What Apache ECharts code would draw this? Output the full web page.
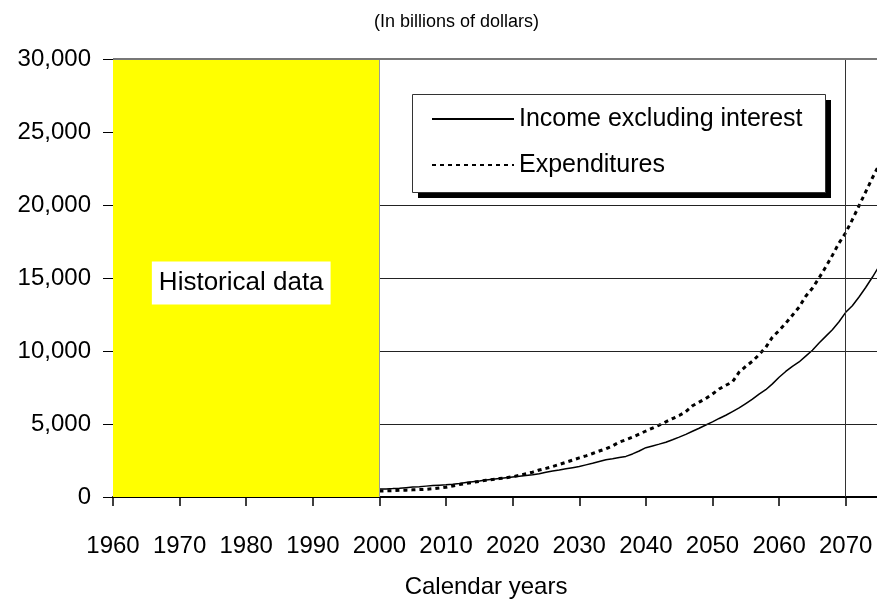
<!DOCTYPE html>
<html>
<head>
<meta charset="utf-8">
<script src="https://cdn.jsdelivr.net/npm/echarts@6/dist/echarts.min.js"></script>
<style>
html,body{margin:0;padding:0;background:#fff;}
#chart{width:877px;height:601px;}
</style>
</head>
<body>
<div id="chart"></div>
<script>
const years = [2000,2001,2002,2003,2004,2005,2006,2007,2008,2009,
  2010,2011,2012,2013,2014,2015,2016,2017,2018,2019,
  2020,2021,2022,2023,2024,2025,2026,2027,2028,2029,
  2030,2031,2032,2033,2034,2035,2036,2037,2038,2039,
  2040,2041,2042,2043,2044,2045,2046,2047,2048,2049,
  2050,2051,2052,2053,2054,2055,2056,2057,2058,2059,
  2060,2061,2062,2063,2064,2065,2066,2067,2068,2069,
  2070,2071,2072,2073,2074,2075];
const incomeExclInterest = [540,555,575,600,640,680,710,745,780,810,
  840,880,930,990,1050,1100,1160,1220,1270,1320,
  1370,1420,1470,1520,1600,1690,1780,1850,1930,2010,
  2090,2200,2310,2430,2550,2620,2700,2780,2950,3150,
  3380,3500,3620,3750,3920,4100,4290,4500,4710,4930,
  5150,5380,5600,5850,6100,6400,6700,7050,7350,7750,
  8200,8600,8950,9250,9650,10050,10550,11000,11450,12000,
  12650,13100,13700,14350,15050,15800];
const expenditures = [410,420,435,455,470,490,510,530,570,620,
  670,760,850,930,1000,1070,1140,1200,1260,1320,
  1390,1480,1590,1700,1850,1960,2090,2230,2380,2530,
  2680,2820,2980,3150,3300,3500,3760,3920,4100,4300,
  4520,4720,4920,5150,5370,5580,5850,6250,6500,6750,
  7050,7400,7650,7880,8550,8950,9300,9750,10250,10950,
  11400,11900,12450,13000,13750,14300,15000,15750,16550,17400,
  18100,19000,19950,20900,21850,22750];
const seriesNames = ['Income excluding interest', 'Expenditures'];
const historicalSpan = [1960, 2000];
const gridValues = [5000, 10000, 15000, 20000];
const projectionSpan = [2000, 2075];
const markerYears = [2070];
const yMax = 30000;

const FONT = '"Liberation Sans", Arial, sans-serif';
const pair = (xs, ys) => xs.map((x, i) => [x, ys[i]]);

const gridLines = gridValues.map(v => [
  {coord: [projectionSpan[0], v]}, {coord: [projectionSpan[1], v]}
]);
const topLine = [[{coord: [historicalSpan[0], yMax]}, {coord: [projectionSpan[1], yMax]}]];

const chart = echarts.init(document.getElementById('chart'), null, {renderer: 'canvas'});
chart.setOption({
  animation: false,
  backgroundColor: '#fff',
  title: {
    text: '(In billions of dollars)',
    left: 369, top: 8,
    textStyle: {fontFamily: FONT, fontSize: 18, fontWeight: 'normal', color: '#000'}
  },
  grid: {left: 113, top: 59, width: 766, height: 438, containLabel: false, outerBoundsMode: 'none'},
  xAxis: {
    type: 'value', min: 1960, max: 2075, interval: 10,
    name: 'Calendar years', nameLocation: 'middle', nameGap: 78,
    nameTextStyle: {fontFamily: FONT, fontSize: 24, color: '#000', padding: [0, 20, 0, 0]},
    axisLine: {show: true, lineStyle: {color: '#000', width: 2}},
    axisTick: {show: true, length: 9, lineStyle: {color: '#000', width: 1.5}},
    axisLabel: {
      margin: 37, fontFamily: FONT, fontSize: 24, color: '#000',
      showMaxLabel: false,
      formatter: v => (v % 10 === 0 ? String(v) : '')
    },
    splitLine: {show: false}
  },
  yAxis: {
    type: 'value', min: 0, max: yMax, interval: 5000,
    axisLine: {show: true, lineStyle: {color: '#000', width: 1}},
    axisTick: {show: true, length: 10, lineStyle: {color: '#000', width: 1}},
    axisLabel: {
      margin: 22, fontFamily: FONT, fontSize: 24, color: '#000',
      formatter: v => v.toLocaleString('en-US')
    },
    splitLine: {show: false}
  },
  legend: {
    orient: 'vertical', left: 431, top: 106, z: 10,
    itemWidth: 82, itemHeight: 14, itemGap: 20,
    padding: 0,
    data: seriesNames,
    itemStyle: {opacity: 0},
    textStyle: {fontFamily: FONT, fontSize: 25, color: '#000', lineHeight: 26}
  },
  graphic: [
    {
      type: 'rect', left: 418, top: 100, z: 4, silent: true,
      shape: {width: 413, height: 98},
      style: {fill: '#000'}
    },
    {
      type: 'rect', left: 412, top: 94, z: 5, silent: true,
      shape: {width: 413, height: 98},
      style: {fill: '#fff', stroke: '#333', lineWidth: 1}
    }
  ],
  series: [
    {
      name: seriesNames[0], type: 'line', showSymbol: false, symbol: 'none',
      data: pair(years, incomeExclInterest),
      lineStyle: {color: '#000', width: 1.5, type: 'solid'},
      itemStyle: {color: '#000'},
      z: 3,
      markArea: {
        silent: true,
        itemStyle: {color: '#FFFF00', opacity: 1},
        label: {
          show: true, position: 'inside', offset: [-5, 5],
          formatter: 'Historical data',
          fontFamily: FONT, fontSize: 26, color: '#000',
          backgroundColor: '#fff', padding: [9, 7, 8, 7]
        },
        data: [[{xAxis: historicalSpan[0], yAxis: 0}, {xAxis: historicalSpan[1], yAxis: yMax}]]
      },
      markLine: {
        silent: true, symbol: ['none', 'none'], label: {show: false},
        lineStyle: {color: '#222', width: 1, type: 'solid'},
        data: gridLines.concat(
          [[{coord: [historicalSpan[1], 0], lineStyle: {color: '#999', width: 1}},
            {coord: [historicalSpan[1], yMax]}]],
          markerYears.map(y => [{coord: [y, 0], lineStyle: {color: '#333', width: 1}}, {coord: [y, yMax]}]),
          topLine.map(p => [Object.assign({lineStyle: {color: '#777', width: 2}}, p[0]), p[1]])
        )
      }
    },
    {
      name: seriesNames[1], type: 'line', showSymbol: false, symbol: 'none',
      data: pair(years, expenditures),
      lineStyle: {color: '#000', width: 3, type: [4, 4]},
      itemStyle: {color: '#000'},
      z: 3
    }
  ]
});
</script>
</body>
</html>
